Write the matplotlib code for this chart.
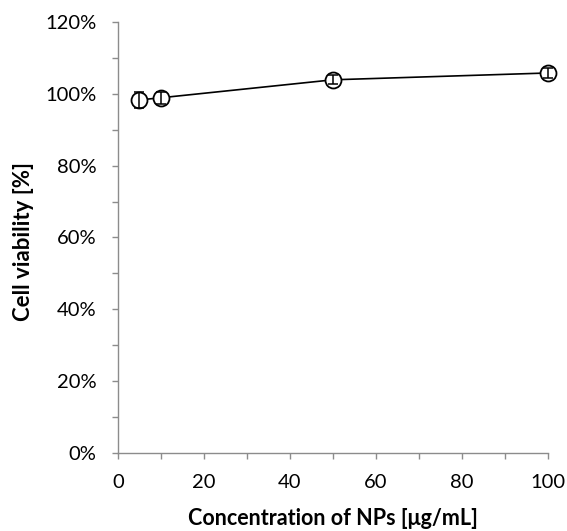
import matplotlib
matplotlib.use("Agg")
import matplotlib.pyplot as plt
from matplotlib.ticker import MultipleLocator, FuncFormatter

conc = [5, 10, 50, 100]
viability = [98.3, 98.9, 103.9, 105.8]
err = [2.2, 1.6, 1.2, 1.3]

plt.rcParams['font.family'] = ['Lato', 'DejaVu Sans']

fig = plt.figure(figsize=(5.67, 5.31), dpi=100)
ax = fig.add_axes([0.208, 0.147, 0.7585, 0.8116])

ax.plot(conc, viability, color='black', lw=1.2, marker='o', markersize=11.5,
        markerfacecolor='white', markeredgecolor='black', markeredgewidth=1.3,
        clip_on=False, zorder=3)
eb = ax.errorbar(conc, viability, yerr=err, fmt='none', ecolor='black',
                 elinewidth=1.1, capsize=3.5, capthick=1.1, zorder=4)
for c in eb.lines[1]:
    c.set_clip_on(False)
for c in eb.lines[2]:
    c.set_clip_on(False)

ax.set_xlim(0, 100)
ax.set_ylim(0, 120)
ax.xaxis.set_major_locator(MultipleLocator(20))
ax.xaxis.set_minor_locator(MultipleLocator(10))
ax.yaxis.set_major_locator(MultipleLocator(20))
ax.yaxis.set_minor_locator(MultipleLocator(10))
ax.yaxis.set_major_formatter(FuncFormatter(lambda v, p: f"{int(round(v))}%"))

for s in ['top', 'right']:
    ax.spines[s].set_visible(False)
for s in ['left', 'bottom']:
    ax.spines[s].set_color('#8c8c8c')
    ax.spines[s].set_linewidth(1.0)

ax.tick_params(which='both', direction='out', color='#8c8c8c', width=1.0, length=4.5)
ax.tick_params(which='major', labelsize=14.5, pad=11)

ax.set_xlabel('Concentration of NPs [\u03bcg/mL]', fontsize=15.5, fontweight='bold', va='center')
ax.set_ylabel('Cell viability [%]', fontsize=16, fontweight='bold', va='center')
ax.xaxis.set_label_coords(0.5, -0.151)
ax.yaxis.set_label_coords(-0.2186, 0.49)

fig.savefig('out.png', dpi=100)
